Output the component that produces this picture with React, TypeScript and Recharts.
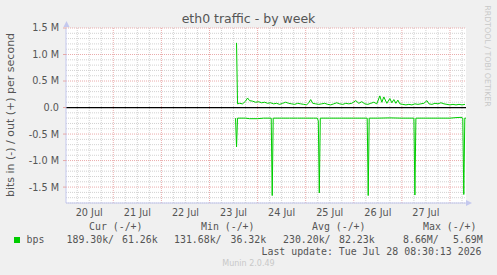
import { LineChart, Line, XAxis, YAxis, ReferenceLine, CartesianGrid } from "recharts";

// x is hours since 20 Jul 00:00, y is in M (bits per second / 1e6)
const dayLabels = ["20 Jul", "21 Jul", "22 Jul", "23 Jul", "24 Jul", "25 Jul", "26 Jul", "27 Jul"];
const dayLabelHours = [12, 36, 60, 84, 108, 132, 156, 180];
const yTicks = [1.5, 1.0, 0.5, 0, -0.5, -1.0, -1.5];
const yTickLabels = ["1.5 M", "1.0 M", "0.5 M", "0.0", "-0.5 M", "-1.0 M", "-1.5 M"];

// out (+)
const outHours = [
  85.5, 86, 87, 88.5, 90, 91, 92, 93.5, 95, 96.5, 98, 99.5, 101, 102.5, 104, 105.5, 107, 108.5,
  110, 111.5, 113, 114.5, 116, 117.5, 119, 120.5, 121.5, 122.5, 123.5, 125, 126.5, 128, 129.5,
  131, 132.5, 134, 135.5, 137, 138.5, 140, 141.5, 143, 145, 146.5, 148, 149.5, 151, 152.5, 154,
  155.5, 157, 158, 159, 160.5, 162, 163, 164, 165, 166, 167, 168.5, 170, 171.5, 173, 174.5, 176,
  177.5, 179, 180.5, 181.5, 183, 184.5, 186, 187.5, 189, 190.5, 192, 193.5, 195, 196.5, 198, 199.5,
];
const outValues = [
  1.22, 0.07, 0.08, 0.07, 0.12, 0.18, 0.13, 0.12, 0.1, 0.11, 0.09, 0.1, 0.08, 0.09, 0.07, 0.08, 0.06, 0.08,
  0.1, 0.08, 0.07, 0.06, 0.08, 0.07, 0.06, 0.05, 0.09, 0.15, 0.08, 0.07, 0.06, 0.07, 0.08,
  0.06, 0.05, 0.07, 0.09, 0.07, 0.06, 0.08, 0.07, 0.08, 0.13, 0.08, 0.11, 0.07, 0.06, 0.08, 0.1,
  0.07, 0.22, 0.1, 0.2, 0.08, 0.17, 0.09, 0.15, 0.08, 0.14, 0.07, 0.06, 0.05, 0.06, 0.05, 0.07, 0.06,
  0.07, 0.08, 0.13, 0.07, 0.06, 0.08, 0.07, 0.09, 0.07, 0.06, 0.05, 0.06, 0.05, 0.06, 0.05, 0.06,
];

// in (-)
const inHours = [
  85, 85.5, 86, 90, 92, 96, 99, 102.8, 103.3, 103.8, 108, 112, 116, 120, 124, 125.8, 126.3, 126.8,
  127.3, 132, 138, 144, 150.7, 151.2, 151.7, 156, 162, 168, 174, 174.5, 175, 180, 186, 192, 195,
  197.5, 198.4, 198.9, 199.4, 200,
];
const inValues = [
  -0.2, -0.74, -0.2, -0.2, -0.21, -0.21, -0.2, -0.2, -1.66, -0.2, -0.2, -0.2, -0.2, -0.2, -0.2, -0.2, -0.25, -1.61,
  -0.2, -0.2, -0.2, -0.2, -0.2, -1.66, -0.2, -0.2, -0.195, -0.2, -0.2, -1.65, -0.2, -0.2, -0.2, -0.2, -0.19,
  -0.185, -0.2, -1.64, -0.2, -0.2,
];

const outData = outHours.map((h, i) => ({ h, v: outValues[i] }));
const inData = inHours.map((h, i) => ({ h, v: inValues[i] }));

// grid: every 6h / 0.1M minor, every day / 0.5M major
const minorX: number[] = [];
const majorX: number[] = [];
for (let h = 6; h < 200; h += 6) (h % 24 === 0 ? majorX : minorX).push(h);
const minorY: number[] = [];
const majorY: number[] = [];
for (let i = -18; i <= 15; i++) {
  if (i === 0) continue;
  (i % 5 === 0 ? majorY : minorY).push(i / 10);
}

const GREEN = "#00cc00";
const TXT = "#555";
const SANS = "DejaVu Sans";
const MONO = "DejaVu Sans Mono";

export default function App() {
  return (
    <div style={{ position: "absolute", left: 0, top: 0, width: 497, height: 275, background: "#f0f0f0" }}>
      <LineChart width={497} height={275} data={outData} margin={{ top: 28, right: 31, bottom: 42, left: 0 }}>
        <CartesianGrid fill="#ffffff" stroke="none" horizontal={false} vertical={false} />
        <XAxis
          dataKey="h"
          type="number"
          domain={[0.4, 200]}
          allowDataOverflow
          ticks={dayLabelHours}
          tickFormatter={(v: number) => dayLabels[dayLabelHours.indexOf(v)]}
          tickLine={false}
          tickSize={0}
          tickMargin={6}
          height={30}
          axisLine={{ stroke: "#c4c8ee" }}
          tick={{ fill: TXT, fontSize: 9.7, fontFamily: SANS }}
        />
        <YAxis
          type="number"
          domain={[-1.8, 1.5]}
          allowDataOverflow
          ticks={yTicks}
          tickFormatter={(v: number) => yTickLabels[yTicks.indexOf(v)]}
          width={66}
          tickLine={{ stroke: "#e6a8a8" }}
          tickSize={3}
          tickMargin={4}
          axisLine={{ stroke: "#c4c8ee" }}
          tick={{ fill: TXT, fontSize: 9.7, fontFamily: SANS }}
        />
        {minorY.map((y) => (
          <ReferenceLine key={"my" + y} y={y} stroke="#d2d2d2" strokeDasharray="1 1" />
        ))}
        {minorX.map((x) => (
          <ReferenceLine key={"mx" + x} x={x} stroke="#d2d2d2" strokeDasharray="1 1" />
        ))}
        {majorY.map((y) => (
          <ReferenceLine key={"My" + y} y={y} stroke="#eaacac" strokeDasharray="1 1" />
        ))}
        {majorX.map((x) => (
          <ReferenceLine key={"Mx" + x} x={x} stroke="#eaacac" strokeDasharray="1 1" />
        ))}
        <ReferenceLine y={0} stroke="#000000" strokeWidth={1.2} />
        <Line data={inData} dataKey="v" type="linear" stroke={GREEN} strokeWidth={1} dot={false} isAnimationActive={false} />
        <Line data={outData} dataKey="v" type="linear" stroke={GREEN} strokeWidth={1} dot={false} isAnimationActive={false} />
      </LineChart>

      <svg width={497} height={275} style={{ position: "absolute", left: 0, top: 0, pointerEvents: "none" }}>
        <text x={248.5} y={23} textAnchor="middle" fontFamily={SANS} fontSize={12.5} fill={TXT}>
          eth0 traffic - by week
        </text>
        <text
          transform="translate(14,115) rotate(-90)"
          textAnchor="middle"
          fontFamily={SANS}
          fontSize={11}
          fill={TXT}
        >
          bits in (-) / out (+) per second
        </text>
        <text
          transform="translate(485,56) rotate(90)"
          textAnchor="middle"
          fontFamily={SANS}
          fontSize={7.9}
          fill="#c8c8c8"
        >
          RRDTOOL / TOBI OETIKER
        </text>
        <polygon points="63.5,27 66.5,21 69.5,27" fill="#c4c8ee" />
        <polygon points="466,200 472,203 466,206" fill="#c4c8ee" />

        <g fontFamily={MONO} fontSize={9.9} fill={TXT} style={{ whiteSpace: "pre" }}>
          <text x={89} y={230}>Cur (-/+)</text>
          <text x={201} y={230}>Min (-/+)</text>
          <text x={312} y={230}>Avg (-/+)</text>
          <text x={423} y={230}>Max (-/+)</text>
          <rect x={14} y={237} width={6} height={6} fill={GREEN} />
          <text x={26.5} y={243}>bps</text>
          <text x={66.5} y={243}>189.30k/</text>
          <text x={122} y={243}>61.26k</text>
          <text x={174} y={243}>131.68k/</text>
          <text x={230.5} y={243}>36.32k</text>
          <text x={283} y={243}>230.20k/</text>
          <text x={339} y={243}>82.23k</text>
          <text x={403} y={243}>8.66M/</text>
          <text x={453} y={243}>5.69M</text>
          <text x={261.5} y={255}>Last update: Tue Jul 28 08:30:13 2026</text>
        </g>
        <text x={248.5} y={266} textAnchor="middle" fontFamily={SANS} fontSize={8} fill="#c8c8c8">
          Munin 2.0.49
        </text>
      </svg>
    </div>
  );
}
